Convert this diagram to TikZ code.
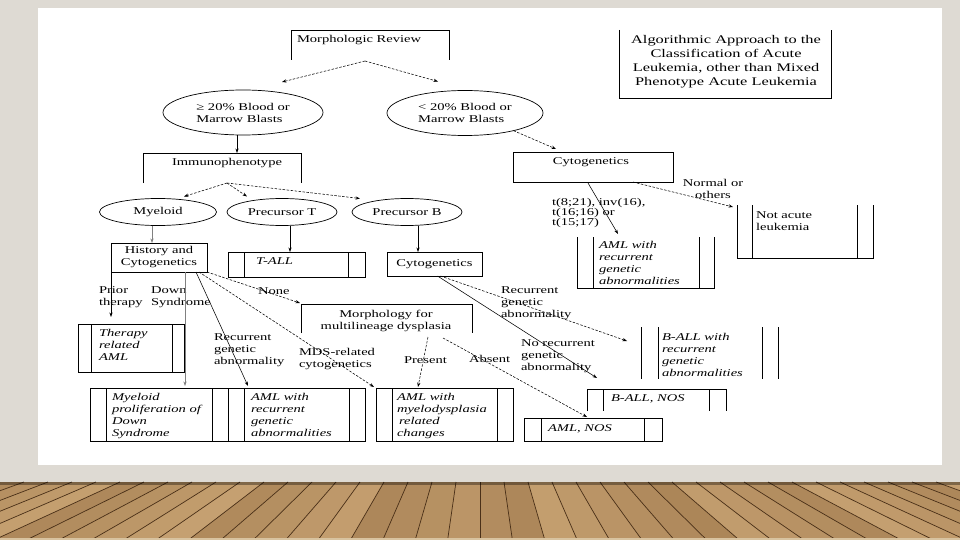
\documentclass[tikz,border=0pt]{standalone}
\usepackage{fontspec}
\setmainfont{Liberation Serif}[FakeStretch=1.4]
\usetikzlibrary{shapes.geometric,arrows.meta,calc}
\definecolor{wall}{HTML}{DEDAD3}
\definecolor{woodA}{HTML}{C9A474}
\definecolor{woodB}{HTML}{8E673D}
\definecolor{woodL}{HTML}{4A3018}
\definecolor{woodE}{HTML}{D8C3A0}
\newcommand\dgfont{\fontsize{10.4}{12}\selectfont}
\newcommand\ttlfont{\fontsize{11.7}{14}\selectfont}
\newcommand\smfont{\fontsize{10.4}{10}\selectfont}
\begin{document}
\begin{tikzpicture}[x=1pt,y=-1pt,
  every node/.style={inner sep=0pt,outer sep=0pt},
  txt/.style={font=\dgfont,align=left,anchor=north west},
  itxt/.style={font=\dgfont\itshape,align=left,anchor=north west},
  ctxt/.style={font=\dgfont,align=center},
  ell/.style={ellipse,draw,line width=0.7pt,font=\dgfont,align=left},
  bline/.style={line width=0.9pt},
  link/.style={line width=0.55pt,-{Stealth[length=4.5pt,width=3.2pt]}},
  dlink/.style={link,dash pattern=on 2.5pt off 1.5pt}]
\useasboundingbox (0,0) rectangle (960,540);
% background
\fill[wall] (0,0) rectangle (960,482);
\fill[white] (38,8) rectangle (942,465);
\fill[woodB] (0,482) rectangle (960,540);
\foreach \i in {-28,...,27} {
  \pgfmathsetmacro\xa{480+\i*24}
  \pgfmathsetmacro\xb{480+(\i+1)*24}
  \pgfmathsetmacro\xc{480+(\i+1)*24*1.35}
  \pgfmathsetmacro\xd{480+\i*24*1.35}
  \pgfmathsetmacro\shd{int(50+mod(abs(\i*37+11),45))}
  \fill[woodA!\shd!woodB] (\xa,482) -- (\xb,482) -- (\xc,540) -- (\xd,540) -- cycle;
  \draw[woodL,line width=0.7pt] (\xa,482) -- (\xd,540);
}
\fill[black,opacity=0.35] (0,482) rectangle (960,485);
\fill[woodE] (0,538) rectangle (960,540);

% Morphologic review
\node[minimum width=158,minimum height=30] (morph) at (370,45) {};
\draw[bline] (morph.south west) |- (morph.north east) -- (morph.south east);
\node[txt] (morphT) at (297,35.5) {Morphologic Review};

% Title
\node[minimum width=212,minimum height=68] (title) at (725,64) {};
\draw[bline] (title.north west) |- (title.south east) -- (title.north east);
\node[ctxt,font=\ttlfont,anchor=north] (titleT) at (726,35.5) {Algorithmic Approach to the\\Classification of Acute\\Leukemia, other than Mixed\\Phenotype Acute Leukemia};

% blasts ellipses
\node[ell,minimum width=160,minimum height=45] (bl1) at (243,112.5) {≥ 20\% Blood or\\Marrow Blasts};
\node[ell,minimum width=156,minimum height=45] (bl2) at (465,113) {< 20\% Blood or\\Marrow Blasts};
\draw[dlink] ($(morph.south)+(-5,1)$) -- ($(bl1.north)+(39,-8)$);
\draw[dlink] ($(morph.south)+(-5,1)$) -- ($(bl2.north)+(-27,-9)$);

% Immunophenotype
\node[minimum width=158,minimum height=30] (immuno) at (222,168) {};
\draw[bline] (immuno.south west) |- (immuno.north east) -- (immuno.south east);
\node[ctxt] (immunoT) at (227,163) {Immunophenotype};
\draw[link] ($(bl1.south)+(-6,0)$) -- ($(immuno.north)+(15,0)$);

% Cytogenetics (right)
\node[draw,bline,minimum width=160,minimum height=30] (cyto1) at (593,167) {};
\node[ctxt] (cyto1T) at (591,162) {Cytogenetics};
\draw[dlink] (bl2.-20) -- ($(cyto1.north)+(-37,-3)$);

% lineage ellipses
\node[ell,minimum width=117,minimum height=27] (my) at (158,212) {Myeloid};
\node[ell,minimum width=110,minimum height=27] (pt) at (282,212) {Precursor T};
\node[ell,minimum width=110,minimum height=27] (pb) at (407,212) {Precursor B};
\draw[dlink] ($(immuno.south)+(5,0)$) -- ($(my.north)+(26,-2)$);
\draw[dlink] ($(immuno.south)+(5,0)$) -- ($(pt.north)+(-35,-2)$);
\draw[dlink] ($(immuno.south)+(5,0)$) -- ($(pb.north)+(-47,0)$);

% History and cytogenetics
\node[draw,bline,minimum width=96,minimum height=29,font=\dgfont,align=center] (hist) at (159,257.5) {History and\\Cytogenetics};
\draw[link,gray] ($(my.south)+(-6,0)$) -- ($(hist.north)+(-7,0)$);

% T-ALL
\node[draw,bline,minimum width=137,minimum height=25] (tall) at (296.5,264.5) {};
\draw[bline] ($(tall.north west)+(16,0)$) -- ($(tall.south west)+(16,0)$);
\draw[bline] ($(tall.north east)+(-17,0)$) -- ($(tall.south east)+(-17,0)$);
\node[itxt] (tallT) at (256,257.5) {T-ALL};
\draw[link] ($(pt.south)+(8,0)$) -- ($(tall.north)+(-6.5,0)$);

% Cytogenetics (B)
\node[draw,bline,minimum width=95,minimum height=24,font=\dgfont] (cyto2) at (434.5,264) {Cytogenetics};
\draw[link] ($(pb.south)+(11,0)$) -- ($(cyto2.north)+(-16.5,0)$);

% Therapy related AML
\node[draw,bline,minimum width=106,minimum height=48] (ther) at (131,348) {};
\draw[bline] ($(ther.north west)+(13,0)$) -- ($(ther.south west)+(13,0)$);
\draw[bline] ($(ther.north east)+(-12,0)$) -- ($(ther.south east)+(-12,0)$);
\node[itxt] (therT) at (99,329.5) {Therapy\\related\\AML};
\draw[link] (hist.south west) -- ($(ther.north)+(-20,-7)$);

\node[txt] (lPrior) at (99,286.5) {Prior\\therapy};
\node[txt] (lDown) at (151,286.5) {Down\\Syndrome};
\node[txt] (lNone) at (258,287.5) {None};
\node[txt] (lRec1) at (214,333.5) {Recurrent\\genetic\\abnormality};
\node[txt] (lMDS) at (299,348.5) {MDS-related\\cytogenetics};
\node[txt] (lPres) at (404,356.5) {Present};
\node[txt] (lAbs) at (469,355.5) {Absent};

% Morphology for multilineage dysplasia
\node[minimum width=171,minimum height=29] (mmd) at (386.5,318.5) {};
\draw[bline] (mmd.south west) |- (mmd.north east) -- (mmd.south east);
\node[ctxt,anchor=north] (mmdT) at (386,310) {Morphology for\\multilineage dysplasia};

% bottom boxes
\node[draw,bline,minimum width=138,minimum height=53] (mpd) at (159,414.5) {};
\node[draw,bline,minimum width=137,minimum height=53] (amlr1) at (296.5,414.5) {};
\node[draw,bline,minimum width=137,minimum height=53] (amlmd) at (444.5,414.5) {};
\foreach \b in {mpd,amlr1,amlmd} {
  \draw[bline] ($(\b.north west)+(16,0)$) -- ($(\b.south west)+(16,0)$);
  \draw[bline] ($(\b.north east)+(-16,0)$) -- ($(\b.south east)+(-16,0)$);
}
\node[itxt] (mpdT) at (112,393.5) {Myeloid\\proliferation of\\Down\\Syndrome};
\node[itxt] (amlr1T) at (251,393.5) {AML with\\recurrent\\genetic\\abnormalities};
\node[itxt] (amlmdT) at (397,393.5) {AML with\\myelodysplasia\\\hspace{2pt}related\\changes};

\draw[link,gray] ($(hist.south)+(26,0)$) -- ($(mpd.north)+(26,-2)$);
\draw[link] ($(hist.south east)+(-11,0)$) -- ($(amlr1.north)+(-48.5,-2)$);
\draw[dlink] ($(hist.south east)+(-8,0)$) -- ($(amlmd.north west)+(-2,-1)$);
\draw[dlink] (hist.south east) -- ($(mmd.north west)+(-1,-1)$);

% AML NOS / B-ALL NOS / B-ALL recurrent
\node[draw,bline,minimum width=138,minimum height=23] (amlnos) at (593,429.5) {};
\draw[bline] ($(amlnos.north west)+(17,0)$) -- ($(amlnos.south west)+(17,0)$);
\draw[bline] ($(amlnos.north east)+(-18,0)$) -- ($(amlnos.south east)+(-18,0)$);
\node[itxt] (amlnosT) at (548,424.5) {AML, NOS};

\node[minimum width=139,minimum height=22] (ballnos) at (656.5,400) {};
\draw[bline] (ballnos.south west) |- (ballnos.north east) -- (ballnos.south east);
\draw[bline] ($(ballnos.north west)+(16,0)$) -- ($(ballnos.south west)+(16,0)$);
\draw[bline] ($(ballnos.north east)+(-17,0)$) -- ($(ballnos.south east)+(-17,0)$);
\node[itxt] (ballnosT) at (611,394.5) {B-ALL, NOS};

\node[minimum width=137,minimum height=52] (ballrec) at (709.5,353) {};
\draw[bline] (ballrec.north west) -- (ballrec.south west);
\draw[bline] ($(ballrec.north west)+(17,0)$) -- ($(ballrec.south west)+(17,0)$);
\draw[bline] ($(ballrec.north east)+(-16,0)$) -- ($(ballrec.south east)+(-16,0)$);
\draw[bline] (ballrec.north east) -- (ballrec.south east);
\begin{scope}
\clip (ballrec.north west) rectangle (ballrec.south east);
\node[itxt] (ballrecT) at (662,333.5) {B-ALL with\\recurrent\\genetic\\abnormalities};
\end{scope}

\draw[dlink] ($(mmd.south)+(41.5,4)$) -- ($(amlmd.north)+(-26.5,-1)$);
\draw[dlink] ($(mmd.south)+(56.5,5)$) -- ($(amlnos.north)+(-6,-1)$);
\draw[dlink] ($(cyto2.south)+(6,0)$) -- ($(ballrec.west)+(-14,-12)$);
\draw[link] ($(cyto2.south)+(3,0)$) -- ($(ballnos.north west)+(10,-11)$);
\node[txt] (lRec2) at (501,286.5) {Recurrent\\genetic\\abnormality};
\node[txt] (lNoRec) at (521,339.5) {No recurrent\\genetic\\abnormality};

% right branch
\node[minimum width=137,minimum height=51] (amlr2) at (645.5,262.5) {};
\draw[bline] (amlr2.north west) |- (amlr2.south east) -- (amlr2.north east);
\draw[bline] ($(amlr2.north west)+(16,0)$) -- ($(amlr2.south west)+(16,0)$);
\draw[bline] ($(amlr2.north east)+(-15,0)$) -- ($(amlr2.south east)+(-15,0)$);
\node[itxt] (amlr2T) at (599,241.5) {AML with\\recurrent\\genetic\\abnormalities};
\draw[link] ($(cyto1.south)+(-5,1)$) -- ($(amlr2.north)+(-27.5,-3)$);

\node[minimum width=136,minimum height=53] (nal) at (805,231.5) {};
\draw[bline] (nal.north west) |- (nal.south east) -- (nal.north east);
\draw[bline] ($(nal.north west)+(15,0)$) -- ($(nal.south west)+(15,0)$);
\draw[bline] ($(nal.north east)+(-16,0)$) -- ($(nal.south east)+(-16,0)$);
\node[txt] (nalT) at (756,211.5) {Not acute\\leukemia};
\draw[dlink] ($(cyto1.south)+(40,0)$) -- ($(nal.north west)+(-4,2)$);

\node[txt,font=\smfont] (lTrans) at (552,198.5) {t(8;21), inv(16),\\t(16;16) or\\t(15;17)};
\node[ctxt,anchor=north] (lNorm) at (713,179.5) {Normal or\\others};
\end{tikzpicture}
\end{document}
